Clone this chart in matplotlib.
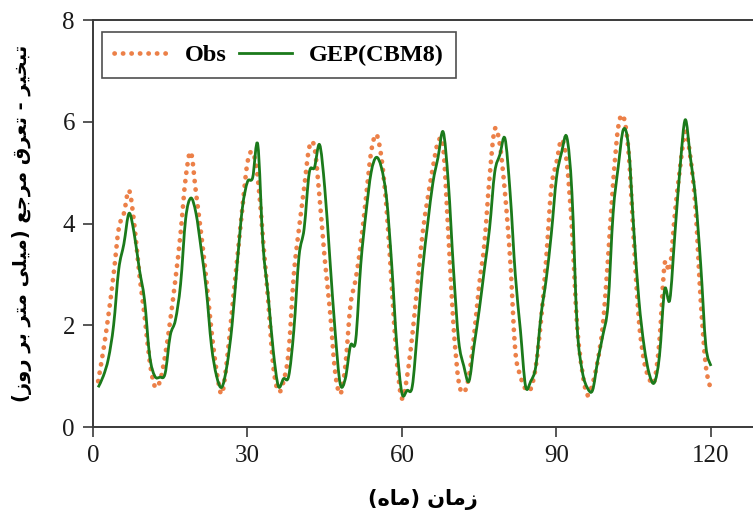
import numpy as np
import matplotlib
matplotlib.use("Agg")
import matplotlib.pyplot as plt
from matplotlib.path import Path
from matplotlib.patches import PathPatch
from matplotlib.lines import Line2D

# ---------------- data ----------------
months = list(range(1, 121))
obs = [0.9, 1.5, 2.2, 3.0, 3.9, 4.2, 4.65, 4.0, 3.0, 2.2, 1.3, 0.8,
       0.9, 1.4, 2.1, 2.9, 3.8, 4.9, 5.4, 4.6, 3.8, 2.9, 1.9, 1.1,
       0.65, 1.3, 2.3, 3.3, 4.3, 5.2, 5.4, 4.9, 3.7, 2.5, 1.2, 0.7,
       0.9, 1.5, 3.0, 3.9, 4.7, 5.5, 5.5, 4.5, 3.3, 2.3, 1.1, 0.65,
       1.2, 2.4, 2.9, 3.6, 4.5, 5.4, 5.75, 5.3, 4.3, 2.8, 1.3, 0.56,
       1.0, 1.8, 2.8, 3.8, 4.5, 5.1, 5.6, 5.5, 3.8, 2.0, 0.9, 0.68,
       1.0, 1.8, 2.8, 3.6, 4.9, 5.85, 5.55, 4.6, 3.3, 1.5, 1.0, 0.75,
       0.75, 1.2, 2.1, 3.3, 4.7, 5.2, 5.65, 5.2, 3.9, 2.0, 1.1, 0.63,
       0.85, 1.3, 2.0, 3.3, 4.8, 5.9, 6.1, 5.4, 3.7, 2.1, 1.3, 0.95,
       0.9, 1.7, 3.2, 3.1, 4.2, 5.1, 5.8, 5.3, 4.3, 2.5, 1.2, 0.73]
gep = [0.78, 1.0, 1.35, 2.0, 3.1, 3.6, 4.2, 3.8, 3.1, 2.5, 1.4, 1.0,
       0.98, 1.05, 1.8, 2.1, 2.8, 4.1, 4.5, 4.2, 3.5, 2.7, 1.6, 1.0,
       0.78, 1.2, 2.0, 3.2, 4.3, 4.82, 4.9, 5.55, 3.6, 2.6, 1.5, 0.8,
       0.95, 1.0, 1.9, 3.35, 3.9, 5.0, 5.1, 5.55, 4.7, 3.3, 1.9, 0.85,
       0.95, 1.6, 1.7, 3.2, 4.2, 5.0, 5.3, 5.1, 4.5, 3.2, 1.6, 0.66,
       0.72, 0.8, 1.9, 3.1, 4.0, 4.8, 5.3, 5.8, 4.8, 3.1, 1.7, 1.2,
       0.9, 1.6, 2.3, 3.1, 3.9, 5.0, 5.35, 5.67, 4.6, 3.0, 1.9, 0.8,
       0.9, 1.2, 2.2, 2.9, 3.8, 4.9, 5.4, 5.7, 4.6, 2.0, 1.1, 0.77,
       0.72, 1.3, 1.8, 2.4, 4.2, 5.12, 5.85, 5.5, 3.9, 2.5, 1.6, 1.05,
       0.87, 1.4, 2.7, 2.5, 3.8, 5.1, 6.04, 5.3, 4.5, 3.2, 1.6, 1.2]
x_ticks = [0, 30, 60, 90, 120]
y_ticks = [0, 2, 4, 6, 8]
xlabel_txt = "زمان (ماه)"
ylabel_txt = "تبخیر - تعرق مرجع (میلی متر بر روز)"

# ---------------- minimal Arabic-script shaping ----------------
FORMS = {  # isolated, final, initial, medial
    'ا': ('\uFE8D', '\uFE8E', None, None),
    'ب': ('\uFE8F', '\uFE90', '\uFE91', '\uFE92'),
    'ت': ('\uFE95', '\uFE96', '\uFE97', '\uFE98'),
    'ج': ('\uFE9D', '\uFE9E', '\uFE9F', '\uFEA0'),
    'خ': ('\uFEA5', '\uFEA6', '\uFEA7', '\uFEA8'),
    'ر': ('\uFEAD', '\uFEAE', None, None),
    'ز': ('\uFEAF', '\uFEB0', None, None),
    'ع': ('\uFEC9', '\uFECA', '\uFECB', '\uFECC'),
    'ق': ('\uFED5', '\uFED6', '\uFED7', '\uFED8'),
    'ل': ('\uFEDD', '\uFEDE', '\uFEDF', '\uFEE0'),
    'م': ('\uFEE1', '\uFEE2', '\uFEE3', '\uFEE4'),
    'ن': ('\uFEE5', '\uFEE6', '\uFEE7', '\uFEE8'),
    'ه': ('\uFEE9', '\uFEEA', '\uFEEB', '\uFEEC'),
    'و': ('\uFEED', '\uFEEE', None, None),
    'ی': ('\uFBFC', '\uFBFD', '\uFBFE', '\uFBFF'),
}


def shape(text):
    out = []
    n = len(text)
    for i, ch in enumerate(text):
        if ch not in FORMS:
            out.append(ch)
            continue
        iso, fin, ini, med = FORMS[ch]
        prev = text[i - 1] if i > 0 else None
        nxt = text[i + 1] if i < n - 1 else None
        jp = prev in FORMS and FORMS[prev][2] is not None
        jn = ini is not None and nxt in FORMS
        if jp and jn:
            out.append(med)
        elif jp:
            out.append(fin)
        elif jn:
            out.append(ini)
        else:
            out.append(iso)
    vis = ''.join(reversed(out))
    return vis.translate(str.maketrans('()', ')('))


def smooth_path(xs, ys):
    """Catmull-Rom style smoothed curve through the data points (cubic Bezier)."""
    p = np.column_stack([xs, ys]).astype(float)
    n = len(p)
    verts = [p[0]]
    codes = [Path.MOVETO]
    for i in range(n - 1):
        p0 = p[i - 1] if i > 0 else p[i]
        p1, p2 = p[i], p[i + 1]
        p3 = p[i + 2] if i + 2 < n else p[i + 1]
        c1 = p1 + (p2 - p0) / 6.0
        c2 = p2 - (p3 - p1) / 6.0
        verts += [c1, c2, p2]
        codes += [Path.CURVE4] * 3
    return Path(verts, codes)


# ---------------- plot ----------------
fig = plt.figure(figsize=(7.53, 5.16), dpi=100)
ax = fig.add_axes([93 / 753, 1 - 427 / 516, 660 / 753, 407 / 516])

obs_c = '#EC8048'
gep_c = '#1B7A1B'
obs_ls = (0, (0.05, 1.75))

obs_patch = PathPatch(smooth_path(months, obs), facecolor='none', edgecolor=obs_c,
                      linewidth=3.4, linestyle=obs_ls, capstyle='round', zorder=2)
gep_patch = PathPatch(smooth_path(months, gep), facecolor='none', edgecolor=gep_c,
                      linewidth=2.0, linestyle='-', joinstyle='round', zorder=3)
ax.add_patch(obs_patch)
ax.add_patch(gep_patch)

ax.set_xlim(0, 128.16)
ax.set_ylim(0, 8)
ax.set_xticks(x_ticks)
ax.set_yticks(y_ticks)

spine_c = '#3a3a3a'
for s in ['left', 'bottom', 'top']:
    ax.spines[s].set_color(spine_c)
    ax.spines[s].set_linewidth(1.4)
ax.spines['right'].set_visible(False)

ax.tick_params(axis='both', direction='out', length=7, width=1.2, color=spine_c,
               labelsize=18, labelcolor='#1a1a1a', pad=6)
for lab in ax.get_xticklabels() + ax.get_yticklabels():
    lab.set_family('Liberation Serif')

ax.set_xlabel(shape(xlabel_txt), fontsize=15, fontweight='bold',
              family='DejaVu Sans', labelpad=16)
ax.set_ylabel(shape(ylabel_txt), fontsize=14, fontweight='bold',
              family='DejaVu Sans', labelpad=22)

handles = [Line2D([], [], color=obs_c, linestyle=obs_ls, linewidth=3.4,
                  dash_capstyle='round'),
           Line2D([], [], color=gep_c, linestyle='-', linewidth=2.0)]
leg = ax.legend(handles, ['Obs', 'GEP(CBM8)'], loc='upper left',
                bbox_to_anchor=(9 / 660, (427 - 32) / 407),
                borderaxespad=0, ncol=2, frameon=True, fancybox=False,
                handlelength=2.2, columnspacing=0.5, handletextpad=0.7,
                borderpad=0.5,
                prop={'family': 'Liberation Serif', 'weight': 'bold', 'size': 17.5})
leg.get_frame().set_edgecolor('#222222')
leg.get_frame().set_linewidth(1.2)

fig.savefig('out.png', dpi=100)
